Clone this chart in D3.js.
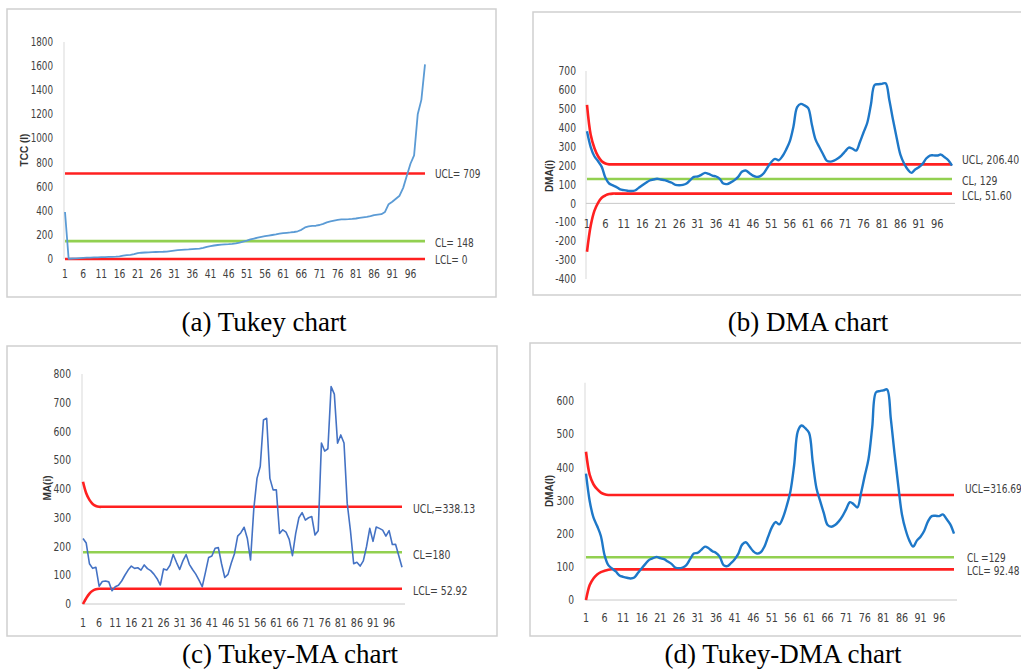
<!DOCTYPE html>
<html>
<head>
<meta charset="utf-8">
<script src="https://cdn.jsdelivr.net/npm/d3@7"></script>
<style>
  html, body { margin: 0; padding: 0; background: #fff; }
  svg { display: block; }
  .tick-label { font-family: "Liberation Sans Narrow", "DejaVu Sans Condensed", "Roboto", sans-serif; fill: #404040; }
  .axis-title { font-family: "Liberation Sans", "DejaVu Sans", sans-serif; font-weight: bold; fill: #333; }
  .caption { font-family: "Liberation Serif", "Times New Roman", serif; fill: #000; }
</style>
</head>
<body>
<div id="chart"></div>
<script>
// ---------------- DATA ----------------
// Sample index (categories) and the x tick labels shown on every panel
const sampleIndex = d3.range(1, 101);
const xTickLabels = ["1","6","11","16","21","26","31","36","41","46","51","56","61","66","71","76","81","86","91","96"];

// (a) Tukey chart: TCC(i)
const tccValues = [390,2,4,6,8,10,11,12,13,14,
  15,16,17,18,19,22,28,32,35,40,
  48,52,54,55,57,58,59,60,62,66,
  70,73,75,77,79,82,84,86,92,100,
  106,112,116,119,121,123,126,130,136,144,
  152,162,170,178,184,189,194,199,204,210,
  214,217,220,224,230,242,262,270,274,276,
  282,292,304,312,318,324,328,329,330,332,
  336,342,346,350,356,364,368,372,390,455,
  475,500,525,590,690,790,860,1200,1320,1615];
const tukeyUCL = 709, tukeyCL = 148, tukeyLCL = 0;
const yTicksA = [0,200,400,600,800,1000,1200,1400,1600,1800];

// (b) DMA chart and (d) Tukey-DMA chart: DMA(i)
const dmaValues = [381,298,249,223,193,135,105,95,86,74,
  70,67,65,68,82,96,109,121,126,130,
  126,123,116,109,98,96,98,105,123,140,
  142,151,161,156,147,142,130,105,102,111,
  123,140,167,174,161,147,140,144,161,191,
  219,235,228,249,284,328,407,509,526,518,
  504,416,337,298,261,226,221,226,237,253,
  274,295,289,279,323,375,425,521,626,630,
  632,635,547,442,346,258,211,179,161,179,
  191,209,237,253,254,253,258,244,228,200];
// (b) limits: start-up values, then the steady value
const dmaUCLStart = [521,363,293,249,223,211];
const dmaUCL = 206.40;
const dmaCL = 129;
const dmaLCLStart = [-256,-119,-40,3,30,42,49];
const dmaLCL = 51.60;
const yTicksB = [-400,-300,-200,-100,0,100,200,300,400,500,600,700];

// (c) Tukey-MA chart: MA(i)
const maValues = [228,212,140,124,128,62,78,80,77,46,
  60,65,80,100,118,132,124,126,118,136,
  123,116,104,88,66,122,118,135,172,145,
  120,150,172,138,120,104,83,60,110,162,
  167,194,196,140,92,103,142,175,236,248,
  267,228,153,330,437,478,640,646,437,397,
  397,245,258,250,225,168,245,300,318,292,
  300,304,240,255,560,532,540,756,730,559,
  588,560,350,255,140,145,132,150,200,263,
  218,268,263,257,236,255,207,208,168,128];
const maUCLStart = [425,385,362,348,341];
const maUCL = 338.13;
const maCL = 180;
const maLCLStart = [0,20,36,46,51];
const maLCL = 52.92;
const yTicksC = [0,100,200,300,400,500,600,700,800];

// (d) Tukey-DMA limits
const tdmaUCLStart = [447,377,349,334,324,319];
const tdmaUCL = 316.69;
const tdmaCL = 129;
const tdmaLCLStart = [0,45,65,77,84,88,91];
const tdmaLCL = 92.48;
const yTicksD = [0,100,200,300,400,500,600];

// ---------------- HELPERS ----------------
function fullLimit(start, steady) {
  return sampleIndex.map((d, i) => i < start.length ? start[i] : steady);
}
function constLimit(v) { return sampleIndex.map(() => v); }

const RED = "#ff2020", GREEN = "#92d050";

const W = 1021, H = 669;
const svg = d3.select("#chart").append("svg").attr("width", W).attr("height", H);
svg.append("rect").attr("width", W).attr("height", H).attr("fill", "#fff");

// condensed text helper (reference uses a narrow UI font)
function narrowText(g, tx, ty, str, size, anchor, sx, fill) {
  return g.append("text").attr("class", "tick-label")
    .attr("transform", `translate(${tx},${ty}) scale(${sx},1)`)
    .attr("dy", "0.35em").attr("text-anchor", anchor)
    .attr("font-size", size).attr("fill", fill || "#404040").text(str);
}

const panels = [
  {
    frame: [7, 9, 489, 288],
    xRange: [65, 425], yRange: [259, 42], yDomain: [0, 1800], axisTop: 1800,
    yTicks: yTicksA, yLabelX: 53, xLabelY: 274, fontSize: 11.5, xFont: 12,
    showXAxis: false,
    title: "TCC (I)", titleX: 24, titleY: 150,
    series: tccValues, color: "#5b9bd5", width: 1.8, curve: d3.curveLinear,
    limits: [
      { v: constLimit(tukeyUCL), c: RED },
      { v: constLimit(tukeyLCL), c: RED },
      { v: constLimit(tukeyCL), c: GREEN }
    ],
    labels: [
      { t: "UCL= " + tukeyUCL, val: tukeyUCL, dy: 0 },
      { t: "CL= " + tukeyCL, val: tukeyCL, dy: 1 },
      { t: "LCL= " + tukeyLCL, val: tukeyLCL, dy: 1 }
    ],
    labelX: 435, labelSize: 12.5, limitWidth: 2.6, limitCurve: d3.curveLinear
  },
  {
    frame: [533, 12, 500, 283],
    xRange: [587, 952], yRange: [279, 71], yDomain: [-400, 700], axisTop: 700,
    yTicks: yTicksB, yLabelX: 576, xLabelY: 223, fontSize: 12, xFont: 13,
    showXAxis: true,
    title: "DMA(i)", titleX: 549, titleY: 176,
    series: dmaValues, color: "#1e78c8", width: 2.4, curve: d3.curveCatmullRom,
    limits: [
      { v: fullLimit(dmaUCLStart, dmaUCL), c: RED },
      { v: fullLimit(dmaLCLStart, dmaLCL), c: RED },
      { v: constLimit(dmaCL), c: GREEN }
    ],
    labels: [
      { t: "UCL, 206.40", val: dmaUCL, dy: -5 },
      { t: "CL, 129", val: dmaCL, dy: 1 },
      { t: "LCL, 51.60", val: dmaLCL, dy: 1.5 }
    ],
    labelX: 962, labelSize: 13, limitWidth: 2.6, limitCurve: d3.curveCatmullRom
  },
  {
    frame: [7, 346, 490, 290],
    xRange: [83, 402], yRange: [604, 374], yDomain: [0, 800], axisTop: 800,
    yTicks: yTicksC, yLabelX: 71, xLabelY: 623, fontSize: 12, xFont: 12.5,
    showXAxis: true,
    title: "MA(i)", titleX: 47, titleY: 488,
    series: maValues, color: "#4472c4", width: 1.6, curve: d3.curveLinear,
    limits: [
      { v: fullLimit(maUCLStart, maUCL), c: RED },
      { v: fullLimit(maLCLStart, maLCL), c: RED },
      { v: constLimit(maCL), c: GREEN }
    ],
    labels: [
      { t: "UCL,=338.13", val: maUCL, dy: 2 },
      { t: "CL=180", val: maCL, dy: 2 },
      { t: "LCL= 52.92", val: maLCL, dy: 2 }
    ],
    labelX: 413, labelSize: 13, limitWidth: 2.6, limitCurve: d3.curveCatmullRom
  },
  {
    frame: [530, 343, 500, 293],
    xRange: [586, 954], yRange: [600, 401], yDomain: [0, 600], axisTop: 655,
    yTicks: yTicksD, yLabelX: 574, xLabelY: 618, fontSize: 12, xFont: 12.5,
    showXAxis: true,
    title: "DMA(I)", titleX: 549, titleY: 491,
    series: dmaValues, color: "#1e78c8", width: 2.4, curve: d3.curveCatmullRom,
    limits: [
      { v: fullLimit(tdmaUCLStart, tdmaUCL), c: RED },
      { v: fullLimit(tdmaLCLStart, tdmaLCL), c: RED },
      { v: constLimit(tdmaCL), c: GREEN }
    ],
    labels: [
      { t: "UCL=316.69", val: tdmaUCL, dy: -6 },
      { t: "CL =129", val: tdmaCL, dy: 0, dx: 2 },
      { t: "LCL= 92.48", val: tdmaLCL, dy: 1, dx: 2 }
    ],
    labelX: 965, labelSize: 12.5, limitWidth: 2.6, limitCurve: d3.curveCatmullRom
  }
];

panels.forEach(p => {
  const g = svg.append("g");
  const [fx, fy, fw, fh] = p.frame;
  g.append("rect").attr("x", fx).attr("y", fy).attr("width", fw).attr("height", fh)
    .attr("fill", "#fff").attr("stroke", "#cfcfcf").attr("stroke-width", 1.5);

  const x = d3.scaleLinear().domain([1, 100]).range(p.xRange);
  const y = d3.scaleLinear().domain(p.yDomain).range(p.yRange);

  // y axis line (no ticks)
  const yAxis = d3.axisLeft(y).tickValues(p.yTicks).tickSize(0).tickFormat("");
  const yAxisG = g.append("g").attr("transform", `translate(${x(1) - 1},0)`).call(yAxis);
  yAxisG.select(".domain").remove();
  g.append("line").attr("x1", x(1) - 1).attr("x2", x(1) - 1)
    .attr("y1", y(p.yDomain[0])).attr("y2", y(p.axisTop))
    .attr("stroke", "#d9d9d9").attr("stroke-width", 1);

  // y tick labels
  p.yTicks.forEach(t => narrowText(g, p.yLabelX, y(t), t, p.fontSize, "end", 0.85));

  // x axis line at 0
  if (p.showXAxis) {
    g.append("line").attr("x1", x(1) - 1).attr("x2", x(100) + 3)
      .attr("y1", y(0)).attr("y2", y(0))
      .attr("stroke", "#c8c8c8").attr("stroke-width", 1);
  }

  // x tick labels
  xTickLabels.forEach(t => narrowText(g, x(+t), p.xLabelY, t, p.xFont, "middle", 0.85));

  // axis title
  g.append("text").attr("class", "axis-title")
    .attr("transform", `translate(${p.titleX},${p.titleY}) rotate(-90)`)
    .attr("text-anchor", "middle").attr("dy", "0.35em")
    .attr("font-size", 10).text(p.title);

  // control limits
  p.limits.forEach(l => {
    const line = d3.line().x((d, i) => x(sampleIndex[i])).y(d => y(d)).curve(p.limitCurve);
    g.append("path").datum(l.v).attr("d", line)
      .attr("fill", "none").attr("stroke", l.c).attr("stroke-width", p.limitWidth);
  });

  // series
  const sLine = d3.line().x((d, i) => x(sampleIndex[i])).y(d => y(d)).curve(p.curve);
  g.append("path").datum(p.series).attr("d", sLine)
    .attr("fill", "none").attr("stroke", p.color).attr("stroke-width", p.width)
    .attr("stroke-linejoin", "round");

  // right side labels
  p.labels.forEach(lb => {
    narrowText(g, p.labelX + (lb.dx || 0), y(lb.val) + lb.dy, lb.t, p.labelSize, "start", 0.8, "#333");
  });
});

// captions
const captions = [
  { t: "(a) Tukey chart", x: 264, y: 331 },
  { t: "(b) DMA chart", x: 808, y: 331 },
  { t: "(c) Tukey-MA chart", x: 290, y: 663 },
  { t: "(d) Tukey-DMA chart", x: 783, y: 663 }
];
svg.selectAll(".caption").data(captions).enter().append("text")
  .attr("class", "caption").attr("x", d => d.x).attr("y", d => d.y)
  .attr("text-anchor", "middle").attr("font-size", 27).text(d => d.t);
</script>
</body>
</html>
